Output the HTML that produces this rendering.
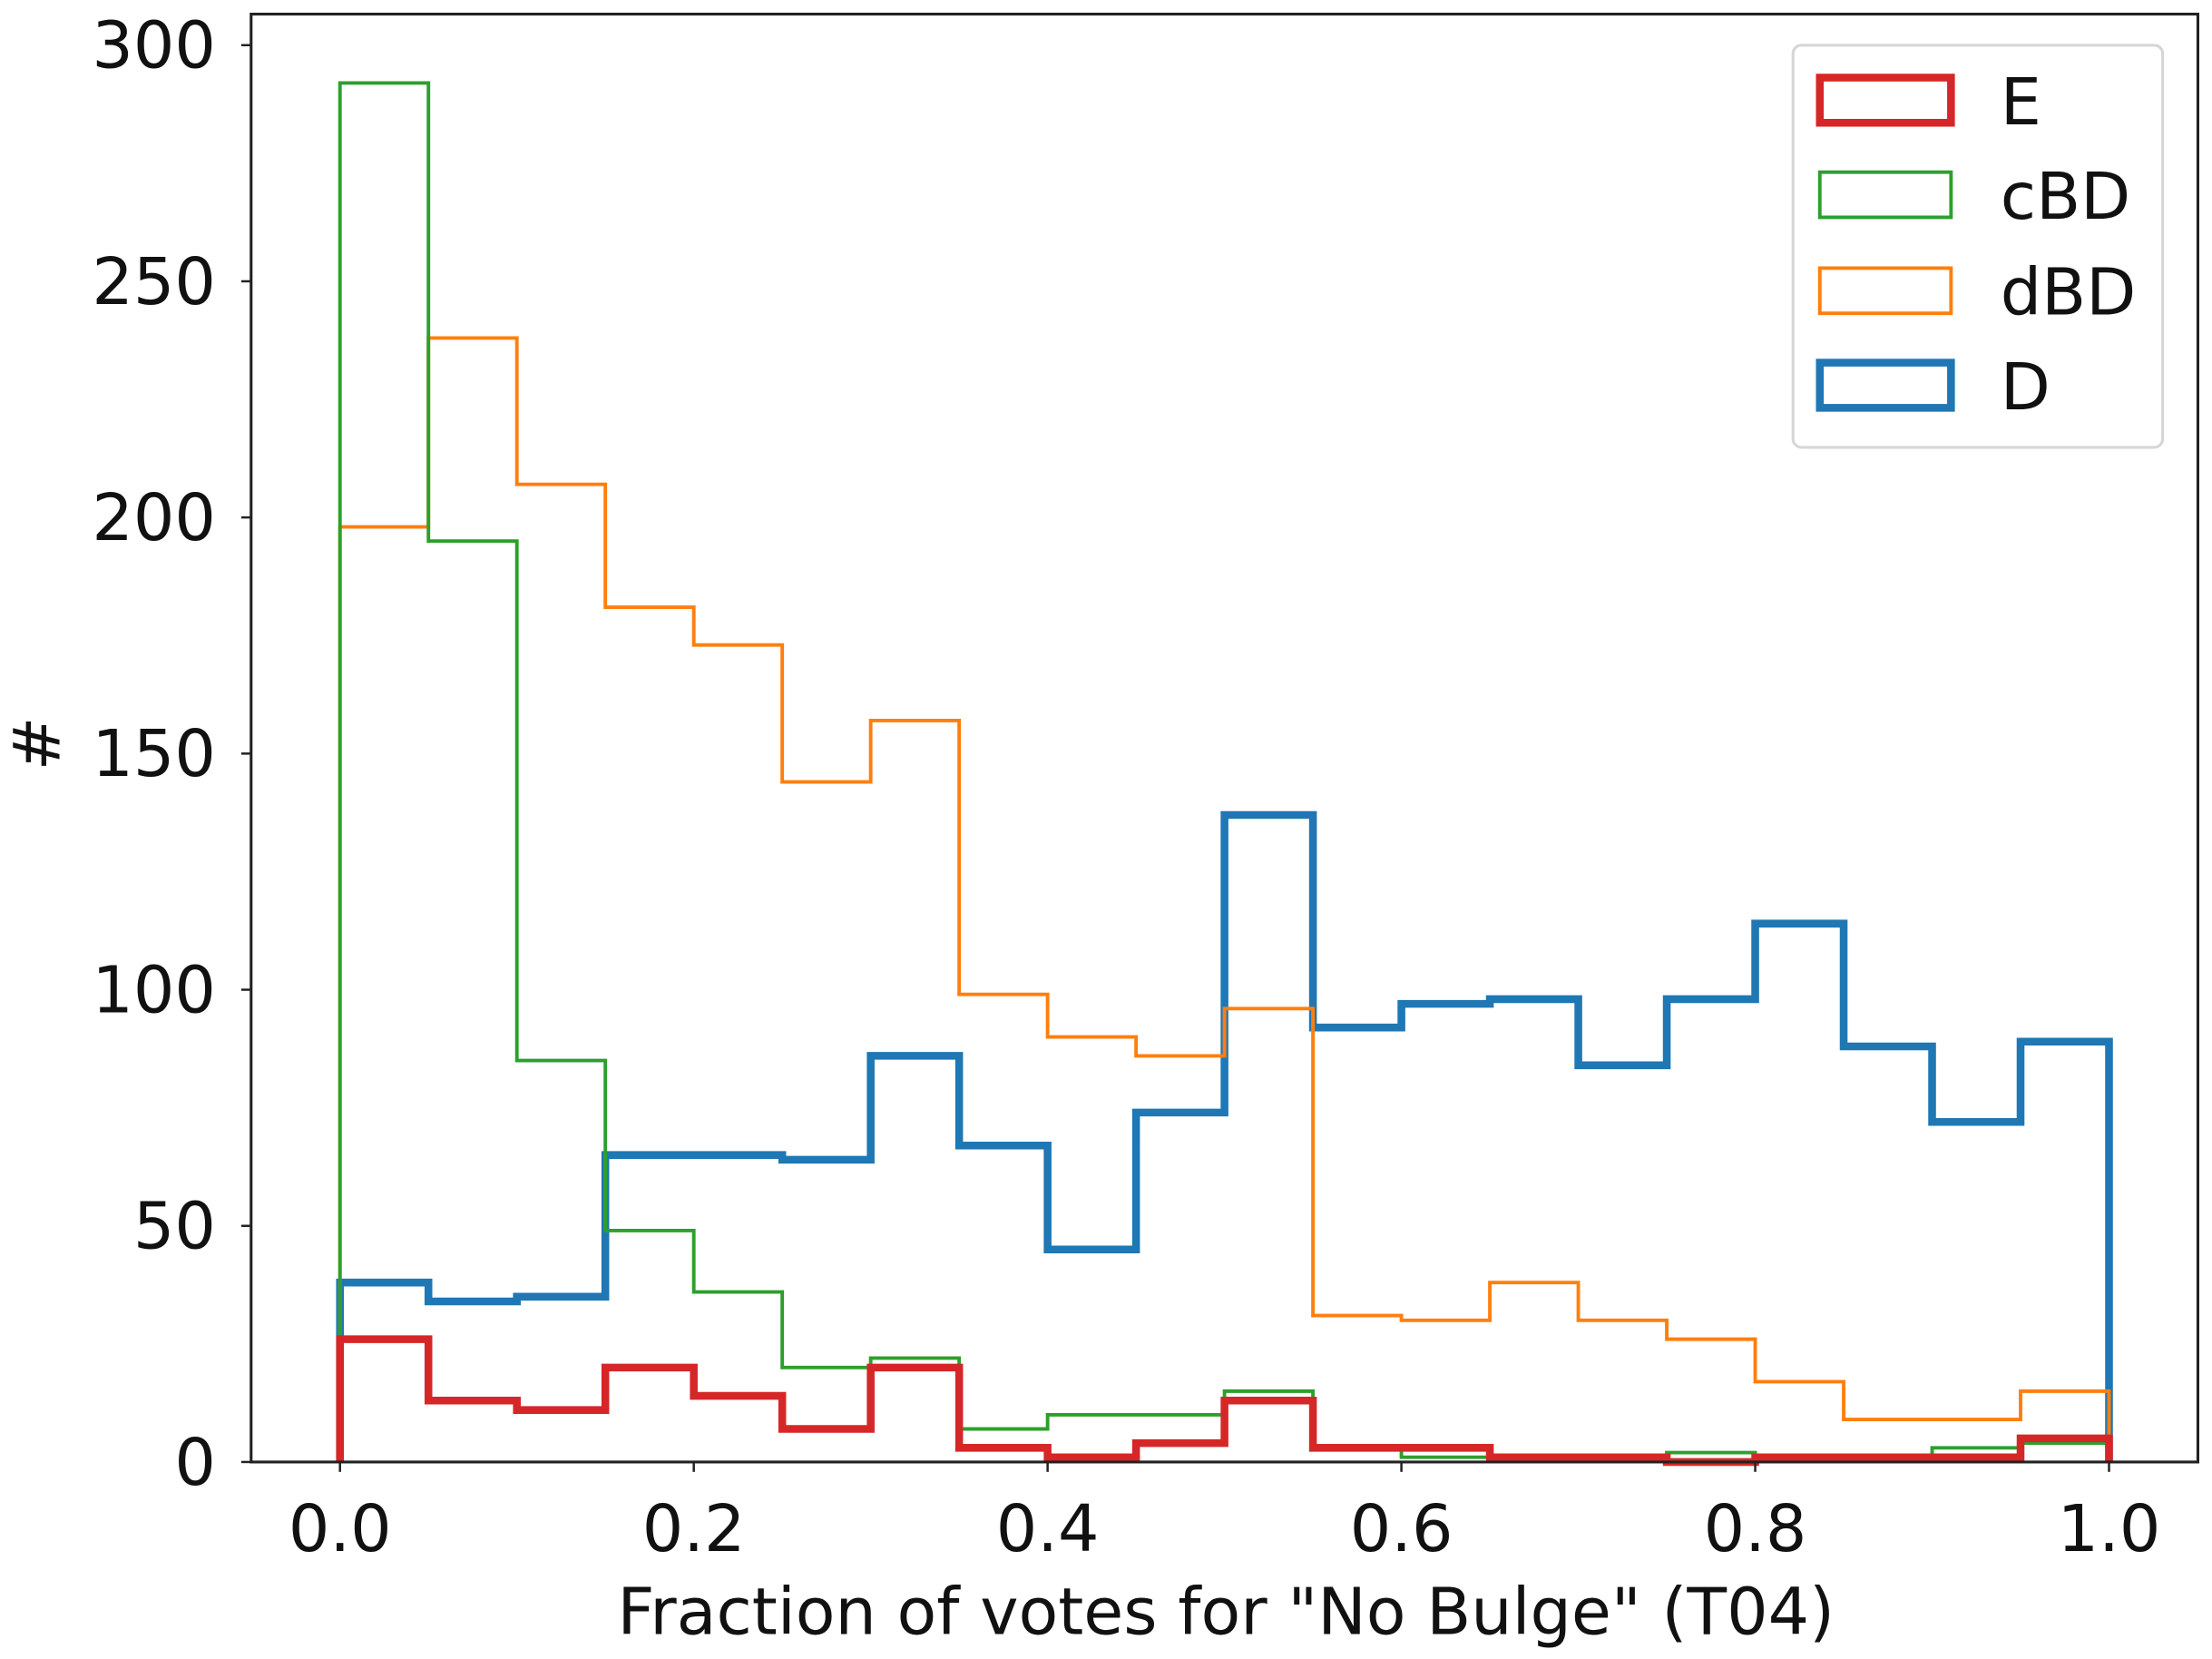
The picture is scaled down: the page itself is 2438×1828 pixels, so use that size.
<!DOCTYPE html>
<html><head><meta charset="utf-8"><style>
html,body{margin:0;padding:0;background:#fff;}
svg{display:block;font-family:"DejaVu Sans","Liberation Sans",sans-serif;}
</style></head><body>
<svg id="chart" width="2438" height="1828" viewBox="0 0 1568 1175.6" preserveAspectRatio="none" xmlns="http://www.w3.org/2000/svg">
<g id="marks"></g>
<g id="axes"></g>
<g id="legend"></g>
</svg>
<script>
const binEdgesStart = 0, binWidth = 0.05;
const seriesNames = ["E", "cBD", "dBD", "D"];
const valuesE   = [26,13,11,20,14,7,20,3,1,4,13,3,3,1,1,0,1,1,1,5];
const valuesCBD = [292,195,85,49,36,20,22,7,10,10,15,3,1,1,1,2,1,1,3,4];
const valuesDBD = [198,238,207,181,173,144,157,99,90,86,96,31,30,38,30,26,17,9,9,15];
const valuesD   = [38,34,35,65,65,64,86,67,45,74,137,92,97,98,84,98,114,88,72,89];
const xTicks = [0, 0.2, 0.4, 0.6, 0.8, 1.0];
const xTickLabels = ["0.0","0.2","0.4","0.6","0.8","1.0"];
const yTicks = [0, 50, 100, 150, 200, 250, 300];
const yTickLabels = ["0","50","100","150","200","250","300"];

const NS = "http://www.w3.org/2000/svg";
const L=178, R=1558, T=10, B=1036;
const X0=241, X1=1495, Y0=1036, Y300=32;
const xs = v => X0 + (X1-X0)*v;
const ys = v => Y0 + (Y300-Y0)*v/300;
function mk(tag, attrs, parent){const e=document.createElementNS(NS,tag);for(const k in attrs)e.setAttribute(k,attrs[k]);parent.appendChild(e);return e;}
const marks=document.getElementById('marks'), axes=document.getElementById('axes'), legend=document.getElementById('legend');

function stepPath(vals){
  let d = `M${xs(binEdgesStart)},${ys(0)}`;
  vals.forEach((v,i)=>{
    const a = xs(binEdgesStart+i*binWidth), b = xs(binEdgesStart+(i+1)*binWidth);
    d += ` L${a},${ys(v)} L${b},${ys(v)}`;
  });
  d += ` L${xs(binEdgesStart+vals.length*binWidth)},${ys(0)}`;
  return d;
}
const styles = {E:["#d62728",5.5], cBD:["#2ca02c",2.5], dBD:["#ff7f0e",2.5], D:["#1f77b4",5.5]};
const dataMap = {E:valuesE, cBD:valuesCBD, dBD:valuesDBD, D:valuesD};
["D","dBD","cBD","E"].forEach(n=>{
  const p = mk('path',{d:stepPath(dataMap[n]),fill:'none',stroke:styles[n][0],'stroke-width':styles[n][1],'stroke-linejoin':'miter'},marks);
  
  
});

const fr = mk('rect',{x:L,y:T,width:R-L,height:B-T,fill:'none',stroke:'#222','stroke-width':2},axes);


xTicks.forEach((t,i)=>{
  mk('line',{x1:xs(t),x2:xs(t),y1:B,y2:B+7,stroke:'#222','stroke-width':1.6},axes);
  const tx = mk('text',{x:xs(t),y:1099,'font-size':46,'text-anchor':'middle',fill:'#111'},axes);
  tx.textContent = xTickLabels[i];
  
  
});
yTicks.forEach((t,i)=>{
  mk('line',{x1:L-7,x2:L,y1:ys(t),y2:ys(t),stroke:'#222','stroke-width':1.6},axes);
  const tx = mk('text',{x:153,y:ys(t)+16,'font-size':46,'text-anchor':'end',fill:'#111'},axes);
  tx.textContent = yTickLabels[i];
  
  
});
const xl = mk('text',{x:869,y:1158,'font-size':46,'text-anchor':'middle',fill:'#111'},axes);
xl.textContent = 'Fraction of votes for "No Bulge" (T04)';


const yl = mk('text',{x:0,y:0,'font-size':46,'text-anchor':'middle',fill:'#111',transform:'translate(42,527) rotate(-90)'},axes);
yl.textContent = '#';



const lb = mk('rect',{x:1271,y:32,width:262,height:285,rx:6,fill:'#fff','fill-opacity':0.85,stroke:'#d6d6d6','stroke-width':2},legend);


const rowsY=[71,138,206,273];
seriesNames.forEach((n,i)=>{
  const sw = styles[n][1];
  const g = mk('g',{},legend);
  
  
  mk('rect',{x:1290,y:rowsY[i]-16,width:93,height:32,fill:'none',stroke:styles[n][0],'stroke-width':sw},g);
  const t = mk('text',{x:1418,y:rowsY[i]+17,'font-size':46,fill:'#111'},g);
  t.textContent = n;
});
</script>
</body></html>
